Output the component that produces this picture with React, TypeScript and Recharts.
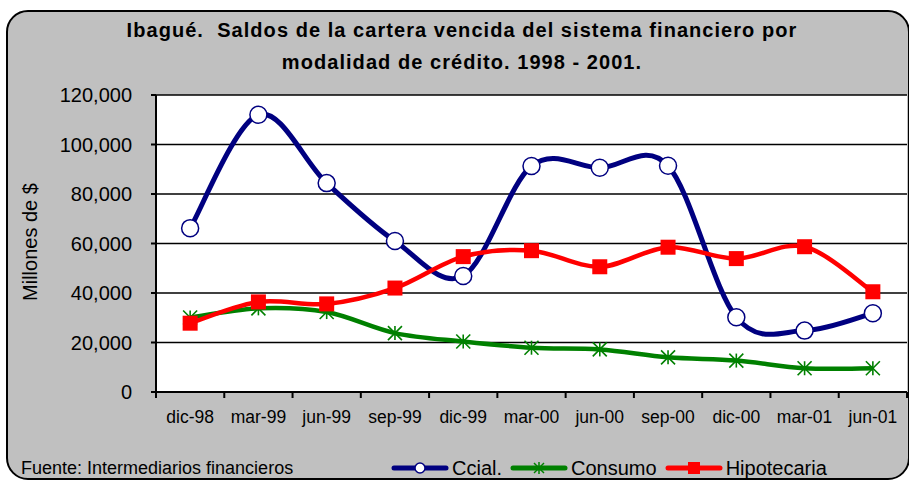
import { LineChart, Line, XAxis, YAxis, CartesianGrid } from "recharts"

const months = ["dic-98", "mar-99", "jun-99", "sep-99", "dic-99", "mar-00", "jun-00", "sep-00", "dic-00", "mar-01", "jun-01"]
const ccial = [66200, 112000, 84400, 61000, 46900, 91300, 90600, 91400, 30200, 24800, 31800]
const consumo = [30100, 33800, 32300, 23800, 20400, 17900, 17200, 14000, 12700, 9600, 9600]
const hipotecaria = [27800, 36400, 35600, 42000, 54700, 57100, 50600, 58500, 53900, 58700, 40500]
const yTicks = [0, 20000, 40000, 60000, 80000, 100000, 120000]

const data = months.map((month, i) => ({
  month,
  ccial: ccial[i],
  consumo: consumo[i],
  hipotecaria: hipotecaria[i],
}))

const FONT = '"Liberation Sans", Arial, sans-serif'
const NAVY = "#000080"
const GREEN = "#008000"
const RED = "#FF0000"

// Excel-like smoothing (Catmull-Rom through the points)
function excelSmooth(context: any) {
  let pts: number[][] = []
  return {
    areaStart() {},
    areaEnd() {},
    lineStart() {
      pts = []
    },
    point(x: number, y: number) {
      pts.push([+x, +y])
    },
    lineEnd() {
      if (!pts.length) return
      context.moveTo(pts[0][0], pts[0][1])
      for (let k = 0; k < pts.length - 1; k++) {
        const p0 = pts[k - 1] || pts[k]
        const p1 = pts[k]
        const p2 = pts[k + 1]
        const p3 = pts[k + 2] || p2
        context.bezierCurveTo(
          p1[0] + (p2[0] - p0[0]) / 6,
          p1[1] + (p2[1] - p0[1]) / 6,
          p2[0] - (p3[0] - p1[0]) / 6,
          p2[1] - (p3[1] - p1[1]) / 6,
          p2[0],
          p2[1]
        )
      }
    },
  }
}

// month label at the band centre, tick marks on the band edges (Excel style)
const MonthTick = (p: any) => {
  const n = p.visibleTicksCount || months.length
  const half = p.width / n / 2
  const last = p.index === n - 1
  return (
    <g>
      <line x1={p.x - half} y1={p.y} x2={p.x - half} y2={p.y + 6} stroke="#000" strokeWidth={2} />
      {last && <line x1={p.x + half} y1={p.y} x2={p.x + half} y2={p.y + 6} stroke="#000" strokeWidth={2} />}
      <text x={p.x} y={p.y + 19} dy="0.71em" textAnchor="middle" fill="#000" fontSize={17.5} fontFamily={FONT}>
        {p.payload.value}
      </text>
    </g>
  )
}

const CircleDot = (p: any) =>
  p.cx == null ? null : <circle key={p.index} cx={p.cx} cy={p.cy} r={8.5} fill="#fff" stroke={NAVY} strokeWidth={1.5} />

const StarDot = (p: any) => {
  if (p.cx == null) return null
  const s = 7
  return (
    <g key={p.index} stroke={GREEN} strokeWidth={1.6}>
      <line x1={p.cx} y1={p.cy - s} x2={p.cx} y2={p.cy + s} />
      <line x1={p.cx - s} y1={p.cy - s} x2={p.cx + s} y2={p.cy + s} />
      <line x1={p.cx - s} y1={p.cy + s} x2={p.cx + s} y2={p.cy - s} />
    </g>
  )
}

const SquareDot = (p: any) =>
  p.cx == null ? null : <rect key={p.index} x={p.cx - 7.5} y={p.cy - 7.5} width={15} height={15} fill={RED} />

function LegendIcon({ color, marker }: { color: string; marker: string }) {
  return (
    <svg width={58} height={16} style={{ display: "block" }}>
      <line x1={3} y1={8} x2={55} y2={8} stroke={color} strokeWidth={5} strokeLinecap="round" />
      {marker === "circle" && <circle cx={29} cy={8} r={5} fill="#fff" stroke={color} strokeWidth={1.5} />}
      {marker === "star" && (
        <g stroke={color} strokeWidth={1.5}>
          <line x1={29} y1={2} x2={29} y2={14} />
          <line x1={24} y1={3} x2={34} y2={13} />
          <line x1={24} y1={13} x2={34} y2={3} />
        </g>
      )}
      {marker === "square" && <rect x={23} y={2} width={12} height={12} fill={color} />}
    </svg>
  )
}

const legendItems = [
  { name: "Ccial.", color: NAVY, marker: "circle" },
  { name: "Consumo", color: GREEN, marker: "star" },
  { name: "Hipotecaria", color: RED, marker: "square" },
]

export default function App() {
  return (
    <div style={{ position: "absolute", left: 0, top: 0, width: 909, height: 480, background: "#fff", overflow: "hidden", fontFamily: FONT }}>
      <div
        style={{
          position: "absolute",
          left: 6,
          top: 10,
          width: 900,
          height: 466,
          background: "#C0C0C0",
          border: "2px solid #000",
          borderRadius: 22,
        }}
      />
      <div style={{ position: "absolute", left: 0, top: 0 }}>
        <LineChart width={909} height={480} data={data} margin={{ top: 95, right: 2, bottom: 48, left: 96 }}>
          <CartesianGrid vertical={false} stroke="#000" strokeWidth={1.5} fill="#fff" fillOpacity={1} />
          <XAxis
            dataKey="month"
            scale="band"
            interval={0}
            tickLine={false}
            axisLine={{ stroke: "#000", strokeWidth: 2 }}
            tickSize={0}
            tickMargin={0}
            height={40}
            tick={<MonthTick />}
          />
          <YAxis
            domain={[0, 120000]}
            ticks={yTicks}
            interval={0}
            tickFormatter={(v: number) => v.toLocaleString("en-US")}
            width={60}
            tickSize={5}
            tickMargin={19}
            tickLine={{ stroke: "#000", strokeWidth: 2 }}
            axisLine={{ stroke: "#000", strokeWidth: 2 }}
            tick={{ fill: "#000", fontSize: 20, fontFamily: FONT }}
          />
          <YAxis
            yAxisId="right"
            orientation="right"
            domain={[0, 120000]}
            allowDataOverflow
            width={0}
            tick={false}
            tickLine={false}
            axisLine={{ stroke: "#000", strokeWidth: 2 }}
          />
          <Line dataKey="ccial" name="Ccial." type={excelSmooth as any} stroke={NAVY} strokeWidth={5} dot={CircleDot} activeDot={false} isAnimationActive={false} />
          <Line dataKey="consumo" name="Consumo" type={excelSmooth as any} stroke={GREEN} strokeWidth={4.5} dot={StarDot} activeDot={false} isAnimationActive={false} />
          <Line dataKey="hipotecaria" name="Hipotecaria" type={excelSmooth as any} stroke={RED} strokeWidth={4.5} dot={SquareDot} activeDot={false} isAnimationActive={false} />
        </LineChart>
      </div>
      <div
        style={{
          position: "absolute",
          left: 0,
          width: 924,
          top: 14,
          textAlign: "center",
          fontWeight: "bold",
          fontSize: 20,
          lineHeight: "32px",
          letterSpacing: 1.05,
          color: "#000",
        }}
      >
        <div style={{ whiteSpace: "pre" }}>{"Ibagué.  Saldos de la cartera vencida del sistema financiero por"}</div>
        <div>modalidad de crédito. 1998 - 2001.</div>
      </div>
      <div
        style={{
          position: "absolute",
          left: 30,
          top: 242,
          transform: "translate(-50%, -50%) rotate(-90deg)",
          fontSize: 20,
          whiteSpace: "nowrap",
          color: "#000",
        }}
      >
        Millones de $
      </div>
      <div style={{ position: "absolute", left: 21, top: 457, fontSize: 18, lineHeight: "22px", color: "#000", whiteSpace: "nowrap" }}>
        Fuente: Intermediarios financieros
      </div>
      <div style={{ position: "absolute", left: 391, top: 456, display: "flex", alignItems: "center", height: 24 }}>
        {legendItems.map((it) => (
          <div key={it.name} style={{ display: "flex", alignItems: "center", marginRight: 8 }}>
            <LegendIcon color={it.color} marker={it.marker} />
            <span style={{ fontSize: 20, marginLeft: 3, color: "#000", whiteSpace: "nowrap" }}>{it.name}</span>
          </div>
        ))}
      </div>
    </div>
  )
}
